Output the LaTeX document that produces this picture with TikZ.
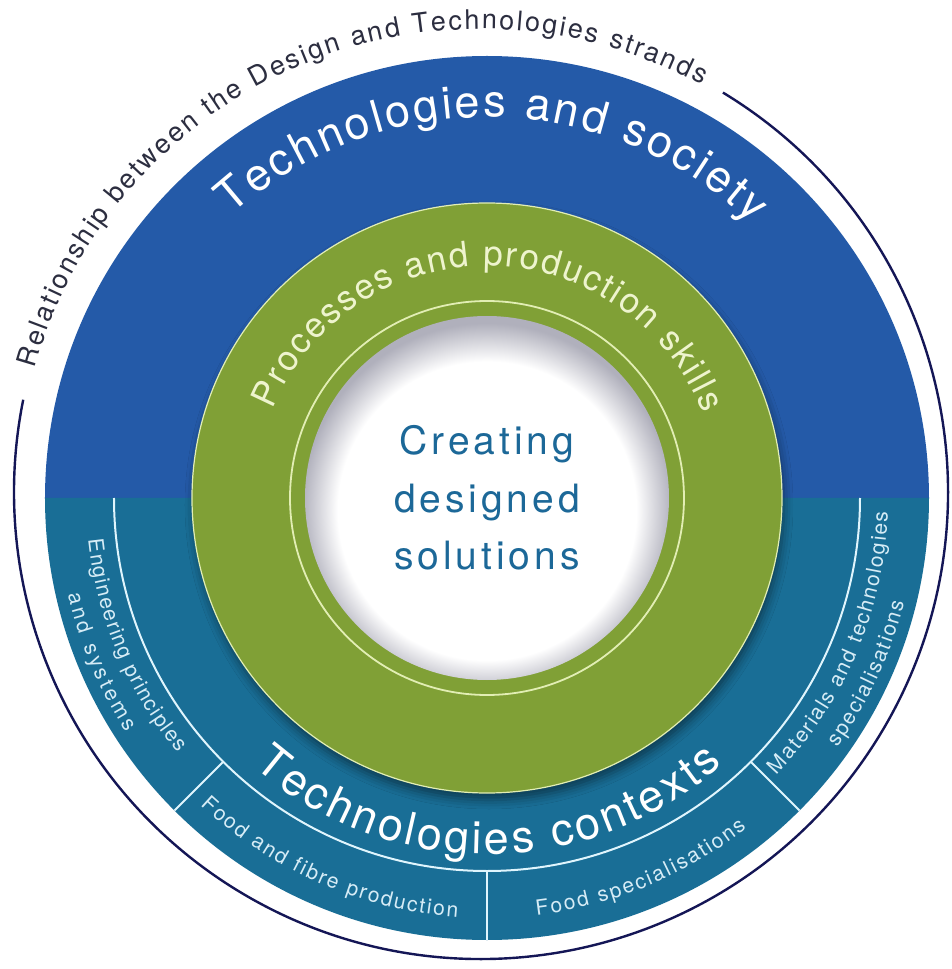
\documentclass[tikz,border=0pt]{standalone}
\usepackage{fontspec}
\setmainfont{TeX Gyre Heros}
\usetikzlibrary{decorations.text, shadows.blur}

\definecolor{bandblue}{RGB}{36,90,168}
\definecolor{bandteal}{RGB}{25,110,150}
\definecolor{ringgreen}{RGB}{128,160,54}
\definecolor{ringedge}{RGB}{226,238,180}
\definecolor{ringtext}{RGB}{238,244,206}
\definecolor{coreblue}{RGB}{28,104,152}
\definecolor{coreshadow}{RGB}{176,176,188}
\definecolor{stranddark}{RGB}{44,46,64}
\definecolor{strandnavy}{RGB}{20,22,86}
\definecolor{sectortext}{RGB}{214,236,246}

\newcommand{\strandfont}{\fontsize{27}{30}\selectfont}
\newcommand{\bandfont}{\fontsize{45}{50}\selectfont}
\newcommand{\ringfont}{\fontsize{35}{40}\selectfont}
\newcommand{\sectorfont}{\fontsize{21}{24}\selectfont}
\newcommand{\corefont}{\fontsize{39}{57.5}\selectfont\addfontfeatures{LetterSpace=10}}

\pgfdeclareradialshading{coreshade}{\pgfpoint{0bp}{-3bp}}{color(0bp)=(white); color(20.5bp)=(white); color(25.5bp)=(coreshadow); color(50bp)=(coreshadow)}

\tikzstyle{curved} = [
    decorate,
    decoration={text along path, text align=fit to path}
]
\tikzstyle{divider} = [
    draw=white!88!cyan,
    line width=2pt
]
\tikzstyle{ringline} = [
    draw=ringedge,
    line width=1.8pt
]
\tikzstyle{coretext} = [
    align=center,
    text=coreblue,
    font=\corefont
]

\begin{document}
\begin{tikzpicture}

\useasboundingbox (-487pt,-471pt) rectangle (465pt,498pt);
\fill[white] (-487pt,-471pt) rectangle (465pt,498pt);

% Outer bracket round the strands
\draw[strandnavy, line width=2.4pt, shift={(-6pt,6pt)}] (58.8:467pt) arc[start angle=58.8, end angle=-191.4, radius=467pt];

% Strands: society (top) and contexts (bottom)
\fill[bandblue] (0:442pt) arc[start angle=0, end angle=180, radius=442pt] -- cycle;
\fill[bandteal] (180:442pt) arc[start angle=180, end angle=360, radius=442pt] -- cycle;

% Context sectors
\draw[divider] (180:373pt) arc[start angle=180, end angle=360, radius=373pt];
\draw[divider] (225:373pt) -- (225:442pt);
\draw[divider] (270:373pt) -- (270:442pt);
\draw[divider] (315:373pt) -- (315:442pt);

% Processes ring and centre
\fill[ringgreen, blur shadow={shadow xshift=2pt, shadow yshift=-7pt, shadow blur radius=9pt, shadow opacity=45}] (0,0) circle (295pt);
\draw[ringline, line width=1.2pt] (0,0) circle (295pt);
\shade[shading=coreshade] (0,0) circle (182pt);
\draw[ringline] (0,0) circle (197pt);

% Curved labels
\path[curved, shift={(-6pt,6pt)}, decoration={text={|\strandfont\color{stranddark}|Relationship between the Design and Technologies strands}}] (164.5:463pt) arc[start angle=164.5, end angle=61.5, radius=463pt];
\path[curved, decoration={text={|\bandfont\color{white}|Technologies and society}}] (132:381pt) arc[start angle=132, end angle=46, radius=381pt];
\path[curved, decoration={text={|\bandfont\color{white}|Technologies contexts}}] (229:356pt) arc[start angle=229, end angle=311.5, radius=356pt];
\path[curved, decoration={text={|\ringfont\color{ringtext}|Processes and production skills}}] (157.5:232pt) arc[start angle=157.5, end angle=21.4, radius=232pt];

% Sector labels
\path[curved, decoration={text={|\sectorfont\color{sectortext}|Engineering principles}}] (186:401pt) arc[start angle=186, end angle=219.5, radius=401pt];
\path[curved, decoration={text={|\sectorfont\color{sectortext}|and systems}}] (193:430pt) arc[start angle=193, end angle=213, radius=430pt];
\path[curved, decoration={text={|\sectorfont\color{sectortext}|Food and fibre production}}] (227:420pt) arc[start angle=227, end angle=266, radius=420pt];
\path[curved, decoration={text={|\sectorfont\color{sectortext}|Food specialisations}}] (276.8:420pt) arc[start angle=276.8, end angle=308.2, radius=420pt];
\path[curved, decoration={text={|\sectorfont\color{sectortext}|Materials and technologies}}] (316.3:401pt) arc[start angle=316.3, end angle=358, radius=401pt];
\path[curved, decoration={text={|\sectorfont\color{sectortext}|specialisations}}] (324.5:430pt) arc[start angle=324.5, end angle=346, radius=430pt];

% Centre
\node (centre) [coretext] at (0,0) {Creating\\designed\\solutions};

\end{tikzpicture}
\end{document}
